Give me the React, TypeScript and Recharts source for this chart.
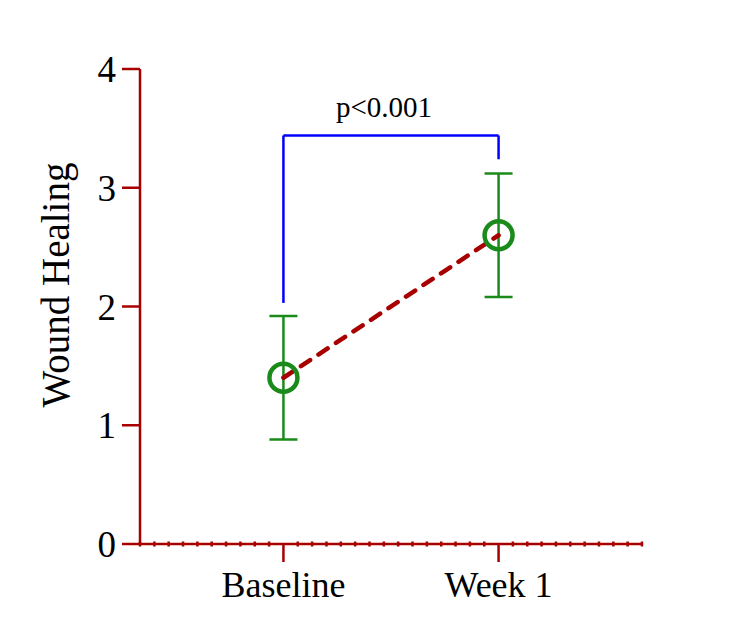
import React from 'react';
import { ComposedChart, Line, XAxis, YAxis, ErrorBar, ReferenceLine, Label } from 'recharts';

document.body.style.margin = '0';
document.body.style.overflow = 'hidden';

// data
const categories = ['Baseline', 'Week 1'];
const positions = [1, 2.5];
const means = [1.4, 2.6];
const errors = [0.52, 0.52];
const yTicks = [0, 1, 2, 3, 4];
const minorTicks = Array.from({ length: 36 }, (_, i) => i / 10);

// significance bracket (y values)
const bracketTop = 3.44;
const bracketLeftBottom = 2.03;
const bracketRightBottom = 3.24;
const pLabel = 'p<0.001';

const FONT = "'Liberation Serif', 'Times New Roman', serif";
const AXIS = '#a80000';
const GREEN = '#1a8a1a';
const BLUE = '#0000ff';

const data = categories.map((name, i) => ({
    name,
    x: positions[i],
    mean: means[i],
    err: errors[i],
}));

const XTick = (props: any) => {
    const { x, y, payload } = props;
    const idx = positions.indexOf(payload.value);
    if (idx < 0) {
        return <line x1={x} x2={x} y1={y - 2.5} y2={y + 2.5} stroke={AXIS} strokeWidth={2.5} />;
    }
    return (
        <g>
            <line x1={x} x2={x} y1={y} y2={y + 18} stroke={AXIS} strokeWidth={2.5} />
            <text x={x} y={y + 53} textAnchor="middle" fontSize={36} fontFamily={FONT} fill="#000">
                {categories[idx]}
            </text>
        </g>
    );
};

const YLabel = () => (
    <text x={0} y={0} transform="translate(69,285) rotate(-90)" textAnchor="middle"
        fontSize={39} fontFamily={FONT} fill="#000">
        Wound Healing
    </text>
);

const App: React.FC = () => {
    return (
        <div style={{ width: 750, height: 636, background: '#fff' }}>
            <ComposedChart width={750} height={636} data={data}
                margin={{ top: 69, right: 108, bottom: 32, left: 0 }}>
                <XAxis
                    type="number"
                    dataKey="x"
                    domain={[0, 3.5]}
                    ticks={minorTicks}
                    interval={0}
                    tick={<XTick />}
                    tickLine={false}
                    tickSize={0}
                    tickMargin={0}
                    height={60}
                    axisLine={{ stroke: AXIS, strokeWidth: 2.5 }}
                />
                <YAxis
                    type="number"
                    domain={[0, 4]}
                    ticks={yTicks}
                    width={140}
                    tickSize={18}
                    tickMargin={6}
                    tickLine={{ stroke: AXIS, strokeWidth: 2.5 }}
                    axisLine={{ stroke: AXIS, strokeWidth: 2.5 }}
                    tick={{ fontSize: 37, fontFamily: FONT, fill: '#000' }}
                    label={<Label content={<YLabel />} />}
                />
                <ReferenceLine
                    segment={[{ x: positions[0], y: bracketLeftBottom }, { x: positions[0], y: bracketTop }]}
                    stroke={BLUE} strokeWidth={2.5} ifOverflow="visible"
                />
                <ReferenceLine
                    segment={[{ x: positions[0], y: bracketTop }, { x: positions[1], y: bracketTop }]}
                    stroke={BLUE} strokeWidth={2.5} ifOverflow="visible"
                >
                    <Label value={pLabel} position="top" offset={19} dx={-7}
                        fontSize={29} fontFamily={FONT} fill="#000" />
                </ReferenceLine>
                <ReferenceLine
                    segment={[{ x: positions[1], y: bracketTop }, { x: positions[1], y: bracketRightBottom }]}
                    stroke={BLUE} strokeWidth={2.5} ifOverflow="visible"
                />
                <Line
                    dataKey="mean"
                    stroke={AXIS}
                    strokeWidth={4.5}
                    strokeDasharray="11 10"
                    strokeLinecap="round"
                    dot={{ r: 14, stroke: GREEN, strokeWidth: 4.5, fill: 'none', strokeDasharray: '0' }}
                    activeDot={false}
                    isAnimationActive={false}
                >
                    <ErrorBar dataKey="err" width={14} stroke={GREEN} strokeWidth={2.5} direction="y" />
                </Line>
            </ComposedChart>
        </div>
    );
};

export default App;
